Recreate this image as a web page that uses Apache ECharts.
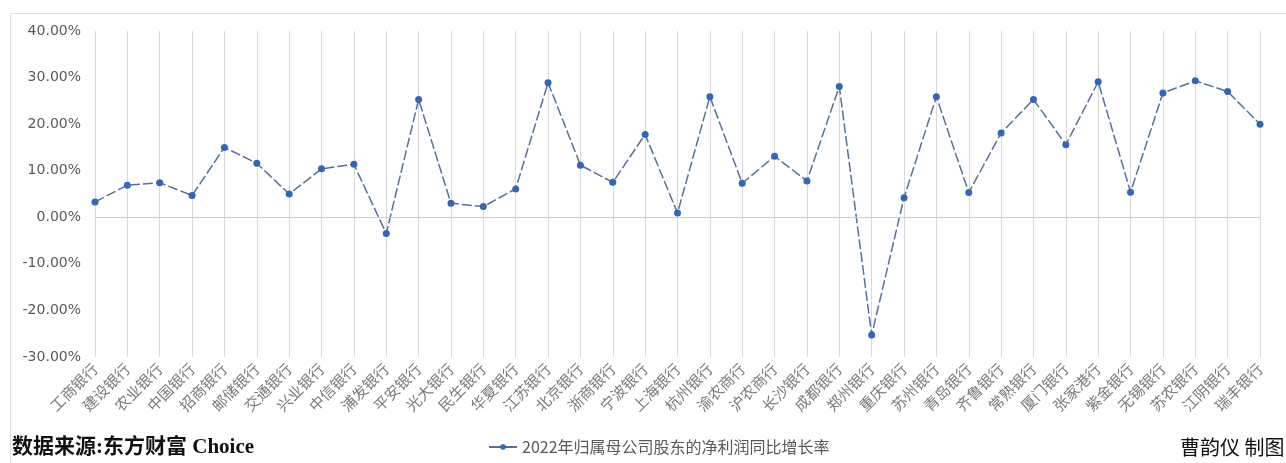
<!DOCTYPE html>
<html><head><meta charset="utf-8">
<script src="https://cdn.jsdelivr.net/npm/echarts@6/dist/echarts.min.js"></script>
<style>html,body{margin:0;padding:0;background:#fff}#c{width:1286px;height:463px}</style>
</head><body><div id="c"></div>
<script>
const categories = ['工商银行','建设银行','农业银行','中国银行','招商银行','邮储银行','交通银行','兴业银行','中信银行','浦发银行','平安银行','光大银行','民生银行','华夏银行','江苏银行','北京银行','浙商银行','宁波银行','上海银行','杭州银行','渝农商行','沪农商行','长沙银行','成都银行','郑州银行','重庆银行','苏州银行','青岛银行','齐鲁银行','常熟银行','厦门银行','张家港行','紫金银行','无锡银行','苏农银行','江阴银行','瑞丰银行'];
const growth = [3.3,6.9,7.4,4.7,15.0,11.6,5.0,10.4,11.4,-3.5,25.3,3.0,2.3,6.1,28.9,11.2,7.5,17.8,0.9,25.9,7.3,13.1,7.8,28.1,-25.3,4.2,25.9,5.3,18.1,25.3,15.6,29.1,5.4,26.7,29.3,27.0,20.0];
const seriesName = '2022年归属母公司股东的净利润同比增长率';
const sourceText = '数据来源:东方财富 Choice';
const authorText = '曹韵仪 制图';

const chart = echarts.init(document.getElementById('c'), null, {renderer:'canvas'});
chart.setOption({
  animation:false,
  backgroundColor:'#fff',
  textStyle:{fontFamily:'"Noto Sans CJK SC", "Noto Sans", sans-serif'},
  grid:{left:95,right:26,top:31,bottom:106,containLabel:false},
  xAxis:{type:'category',data:categories,boundaryGap:false,
    axisLine:{show:false},axisTick:{show:false},
    splitLine:{show:true,lineStyle:{color:'#d9d9d9',width:1}},
    axisLabel:{rotate:45,color:'#7a7a7a',fontSize:15,margin:9,interval:0}},
  yAxis:{type:'value',min:-30,max:40,interval:10,
    axisLine:{show:false},axisTick:{show:false},splitLine:{show:false},
    axisLabel:{color:'#595959',fontSize:14,margin:14,fontFamily:'"DejaVu Sans", sans-serif',formatter:v=>v.toFixed(2)+'%'}},
  legend:{bottom:3,left:483,itemWidth:28,itemHeight:7,itemGap:10,
    lineStyle:{type:'solid'},
    textStyle:{color:'#595959',fontSize:16},data:[seriesName]},
  series:[{name:seriesName,type:'line',data:growth,
    symbol:'circle',symbolSize:7,
    itemStyle:{color:'#3566b3'},
    lineStyle:{color:'#56709a',width:1.5,type:[10,3]},
    markLine:{silent:true,symbol:'none',label:{show:false},
      lineStyle:{color:'#cfcfcf',width:1,type:'solid'},data:[{yAxis:0}]}}],
  graphic:[
    {type:'polyline',shape:{points:[[10.5,463],[10.5,13.5],[1290,13.5]]},style:{fill:'none',stroke:'#e0e0e0',lineWidth:1},silent:true},
    {type:'text',left:12,top:437,style:{text:sourceText,fontSize:21,fontWeight:'bold',fill:'#111',fontFamily:'"Liberation Serif", "Noto Sans CJK SC", serif'}},
    {type:'text',left:1180,top:437,style:{text:authorText,fontSize:20,fill:'#111',fontFamily:'"Noto Sans CJK SC", sans-serif'}}
  ]
});
</script></body></html>
